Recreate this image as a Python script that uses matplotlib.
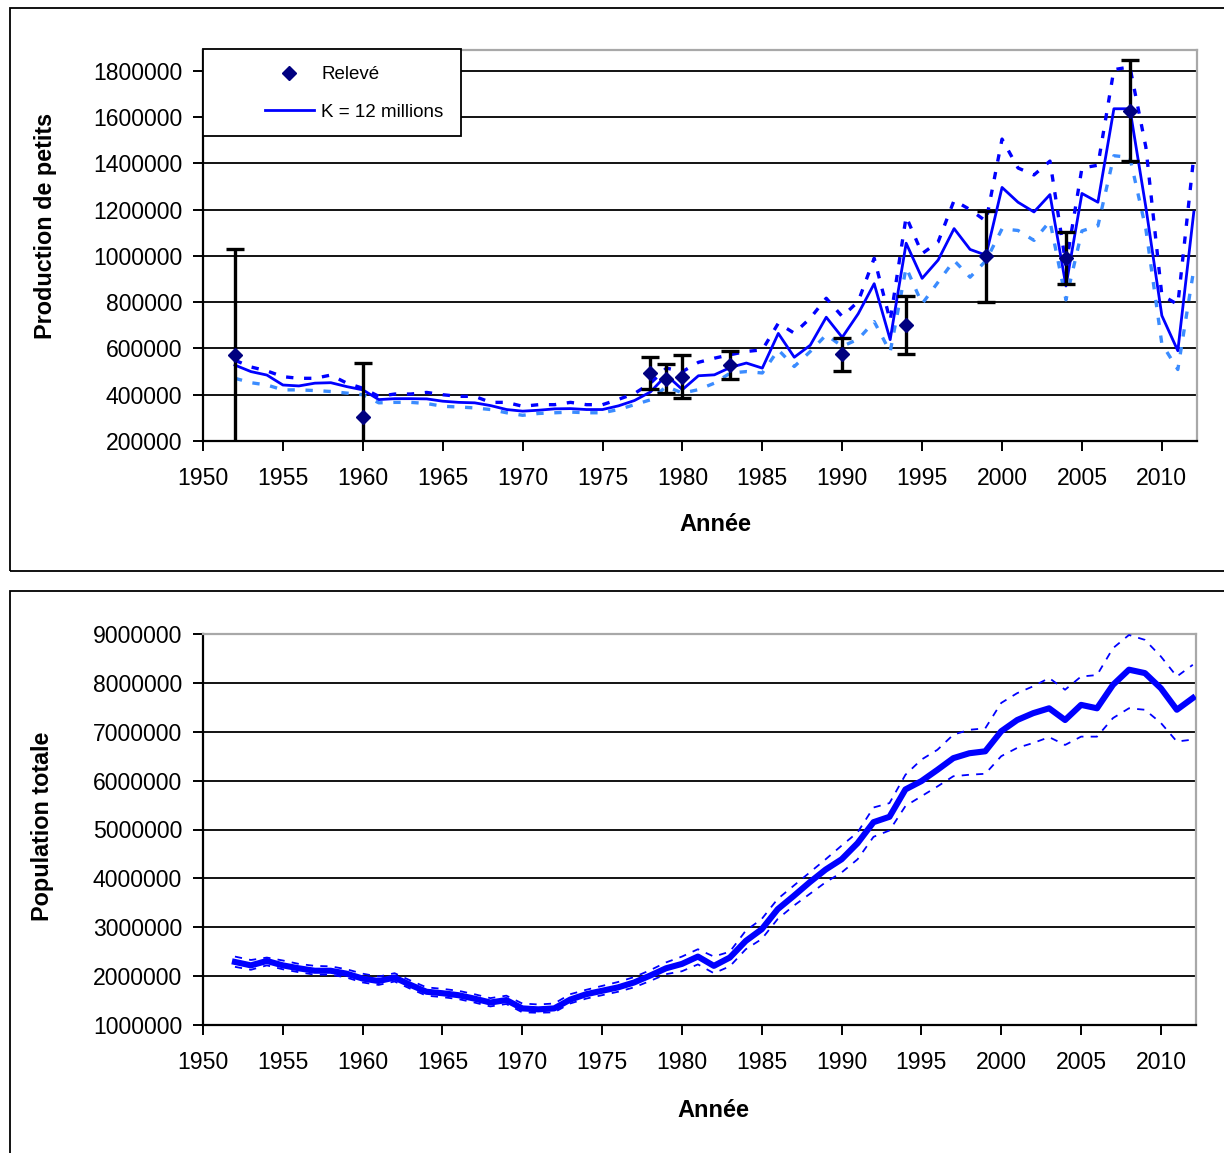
import matplotlib
matplotlib.use("Agg")
import matplotlib.pyplot as plt
from matplotlib.patches import Rectangle
from matplotlib.ticker import FuncFormatter

plt.rcParams['font.family'] = ['Liberation Sans', 'DejaVu Sans']

# ---------------------------------------------------------------- data
years = list(range(1952, 2013))

# pup production, model with K = 12 millions, and its bounds
pups_k12 = [
    528000, 500000, 485000, 442000, 438000, 450000, 452000, 435000, 421000, 379000,
    383000, 383000, 382000, 372000, 367000, 365000, 353000, 336000, 329000, 333000,
    339000, 340000, 336000, 336000, 352000, 375000, 412000, 485000, 422000, 482000,
    486000, 518000, 537000, 515000, 665000, 562000, 614000, 735000, 648000, 750000,
    880000, 638000, 1055000, 903000, 982000, 1118000, 1028000, 1003000, 1296000, 1232000,
    1190000, 1265000, 870000, 1270000, 1232000, 1636000, 1636000, 1210000, 742000, 590000,
    1190000,
]
pups_upper = [
    549000, 520000, 503000, 478000, 471000, 471000, 485000, 450000, 428000, 393000,
    403000, 403000, 410000, 400000, 393000, 393000, 367000, 367000, 350000, 357000,
    357000, 367000, 357000, 357000, 380000, 405000, 450000, 515000, 500000, 540000,
    558000, 573000, 587000, 594000, 709000, 666000, 731000, 817000, 738000, 803000,
    990000, 720000, 1170000, 1010000, 1060000, 1240000, 1200000, 1150000, 1505000, 1380000,
    1350000, 1410000, 960000, 1380000, 1392000, 1805000, 1817000, 1470000, 830000, 790000,
    1430000,
]
pups_lower = [
    471000, 452000, 442000, 421000, 421000, 418000, 414000, 407000, 400000, 365000,
    367000, 367000, 362000, 350000, 347000, 343000, 336000, 322000, 311000, 319000,
    322000, 325000, 322000, 322000, 336000, 357000, 378000, 436000, 407000, 422000,
    450000, 494000, 500000, 494000, 594000, 522000, 587000, 659000, 609000, 640000,
    716000, 585000, 950000, 793000, 887000, 980000, 908000, 980000, 1117000, 1110000,
    1067000, 1150000, 810000, 1108000, 1130000, 1433000, 1426000, 1116000, 620000, 509000,
    942000,
]

# field counts of pups with their uncertainty
survey_years = [1952, 1960, 1978, 1979, 1980, 1983, 1990, 1994, 1999, 2004, 2008]
survey_pups = [572000, 305000, 495000, 470000, 478000, 530000, 575000, 700000, 998000, 992000, 1628000]
survey_err = [458000, 232000, 70000, 62000, 94000, 60000, 72000, 125000, 197000, 113000, 218000]

# total population and its bounds
pop_total = [
    2290000, 2220000, 2310000, 2220000, 2160000, 2110000, 2110000, 2050000, 1950000, 1900000,
    1970000, 1820000, 1680000, 1650000, 1610000, 1540000, 1460000, 1510000, 1340000, 1320000,
    1340000, 1520000, 1630000, 1700000, 1770000, 1870000, 2010000, 2160000, 2250000, 2400000,
    2210000, 2380000, 2720000, 2960000, 3370000, 3640000, 3920000, 4180000, 4390000, 4720000,
    5150000, 5260000, 5820000, 5990000, 6220000, 6460000, 6560000, 6600000, 7010000, 7240000,
    7380000, 7480000, 7240000, 7550000, 7480000, 7960000, 8270000, 8200000, 7890000, 7450000,
    7690000,
]
pop_upper = [
    2400000, 2330000, 2380000, 2320000, 2250000, 2210000, 2200000, 2140000, 2050000, 1990000,
    2060000, 1910000, 1770000, 1740000, 1700000, 1630000, 1550000, 1600000, 1440000, 1420000,
    1440000, 1630000, 1720000, 1800000, 1880000, 1980000, 2120000, 2280000, 2400000, 2550000,
    2400000, 2500000, 2930000, 3170000, 3580000, 3850000, 4120000, 4390000, 4670000, 4940000,
    5450000, 5540000, 6120000, 6430000, 6630000, 6940000, 7040000, 7070000, 7590000, 7790000,
    7930000, 8100000, 7860000, 8130000, 8160000, 8710000, 8980000, 8880000, 8540000, 8130000,
    8370000,
]
pop_lower = [
    2190000, 2130000, 2220000, 2140000, 2080000, 2030000, 2030000, 1970000, 1870000, 1820000,
    1890000, 1740000, 1600000, 1570000, 1530000, 1460000, 1380000, 1430000, 1260000, 1250000,
    1260000, 1440000, 1540000, 1610000, 1680000, 1770000, 1900000, 2040000, 2100000, 2240000,
    2060000, 2200000, 2550000, 2760000, 3170000, 3440000, 3680000, 3920000, 4120000, 4390000,
    4850000, 4980000, 5480000, 5680000, 5880000, 6090000, 6120000, 6140000, 6500000, 6670000,
    6770000, 6890000, 6730000, 6900000, 6900000, 7280000, 7480000, 7450000, 7180000, 6800000,
    6840000,
]

year_ticks = list(range(1950, 2011, 5))
pups_ticks = list(range(200000, 1800001, 200000))
pop_ticks = list(range(1000000, 9000001, 1000000))

# ---------------------------------------------------------------- figure
W, H = 1224, 1153
fig = plt.figure(figsize=(W / 100, H / 100), dpi=100)
fig.patch.set_facecolor('white')

# two framed panels
fig.add_artist(Rectangle((10 / W, 1 - 571 / H), 1300 / W, 563 / H, transform=fig.transFigure,
                         fill=False, edgecolor='black', lw=1.3))
fig.add_artist(Rectangle((10 / W, -0.05), 1300 / W, 1 - 591 / H + 0.05, transform=fig.transFigure,
                         fill=False, edgecolor='black', lw=1.3))

ax1 = fig.add_axes([203 / W, 1 - 441 / H, 994 / W, 391 / H])
ax2 = fig.add_axes([203 / W, 1 - 1025 / H, 993 / W, 391 / H])

fmt = FuncFormatter(lambda v, p: f"{int(round(v))}")


def style_axes(ax, yticks, ylim):
    ax.set_xlim(1950, 2012.2)
    ax.set_ylim(*ylim)
    ax.set_xticks(year_ticks)
    ax.set_yticks(yticks)
    ax.yaxis.set_major_formatter(fmt)
    ax.yaxis.grid(True, color='black', lw=1.3)
    ax.set_axisbelow(True)
    for side in ('left', 'bottom'):
        ax.spines[side].set_color('black')
        ax.spines[side].set_linewidth(1.6)
    for side in ('top', 'right'):
        ax.spines[side].set_color('#a8a8a8')
        ax.spines[side].set_linewidth(1.6)
    ax.tick_params(axis='both', direction='out', length=7, width=1.4, labelsize=16.6, colors='black')
    ax.tick_params(axis='y', pad=8)
    ax.tick_params(axis='x', pad=12)


# ---------------------------------------------------------------- pup production
style_axes(ax1, pups_ticks, (200000, 1890000))
ax1.plot(years, pups_upper, color='#0000ff', lw=2.4, ls=(0, (2.2, 3.2)), zorder=3)
ax1.plot(years, pups_lower, color='#3b8cff', lw=2.4, ls=(0, (2.2, 3.2)), zorder=3)
model_line, = ax1.plot(years, pups_k12, color='#0000ff', lw=2.0, zorder=4,
                       label='K = 12 millions')
ax1.errorbar(survey_years, survey_pups, yerr=survey_err, fmt='none', ecolor='black',
             elinewidth=2.4, capsize=6.5, capthick=2.4, zorder=5)
survey_pts, = ax1.plot(survey_years, survey_pups, ls='none', marker='D', markersize=7.5,
                       color='#000080', zorder=6, label='Relevé')

ax1.set_ylabel('Production de petits', fontsize=16.8, fontweight='bold')
ax1.yaxis.set_label_coords(-0.147, 0.55)
ax1.set_xlabel('Année', fontsize=17, fontweight='bold')
ax1.xaxis.set_label_coords(0.516, -0.184)

ax1.add_patch(Rectangle((0, 0.780), 0.2596, 0.222, transform=ax1.transAxes, facecolor='white',
                        edgecolor='black', lw=1.3, zorder=7, clip_on=False))
leg = ax1.legend(handles=[survey_pts, model_line], loc='center left',
                 bbox_to_anchor=(0.0624, 0.889), frameon=False, fontsize=13.5,
                 handlelength=2.6, handletextpad=0.4, labelspacing=1.1, borderpad=0,
                 borderaxespad=0)
leg.set_zorder(8)

# ---------------------------------------------------------------- total population
style_axes(ax2, pop_ticks, (1000000, 9000000))
ax2.plot(years, pop_upper, color='#0000ff', lw=1.3, ls=(0, (4, 4)), zorder=3)
ax2.plot(years, pop_lower, color='#0000ff', lw=1.3, ls=(0, (4, 4)), zorder=3)
ax2.plot(years, pop_total, color='#0000ff', lw=4.4, zorder=4)

ax2.set_ylabel('Population totale', fontsize=16.8, fontweight='bold')
ax2.yaxis.set_label_coords(-0.150, 0.509)
ax2.set_xlabel('Année', fontsize=17, fontweight='bold')
ax2.xaxis.set_label_coords(0.514, -0.189)

fig.savefig('out.png', dpi=100, facecolor='white')
